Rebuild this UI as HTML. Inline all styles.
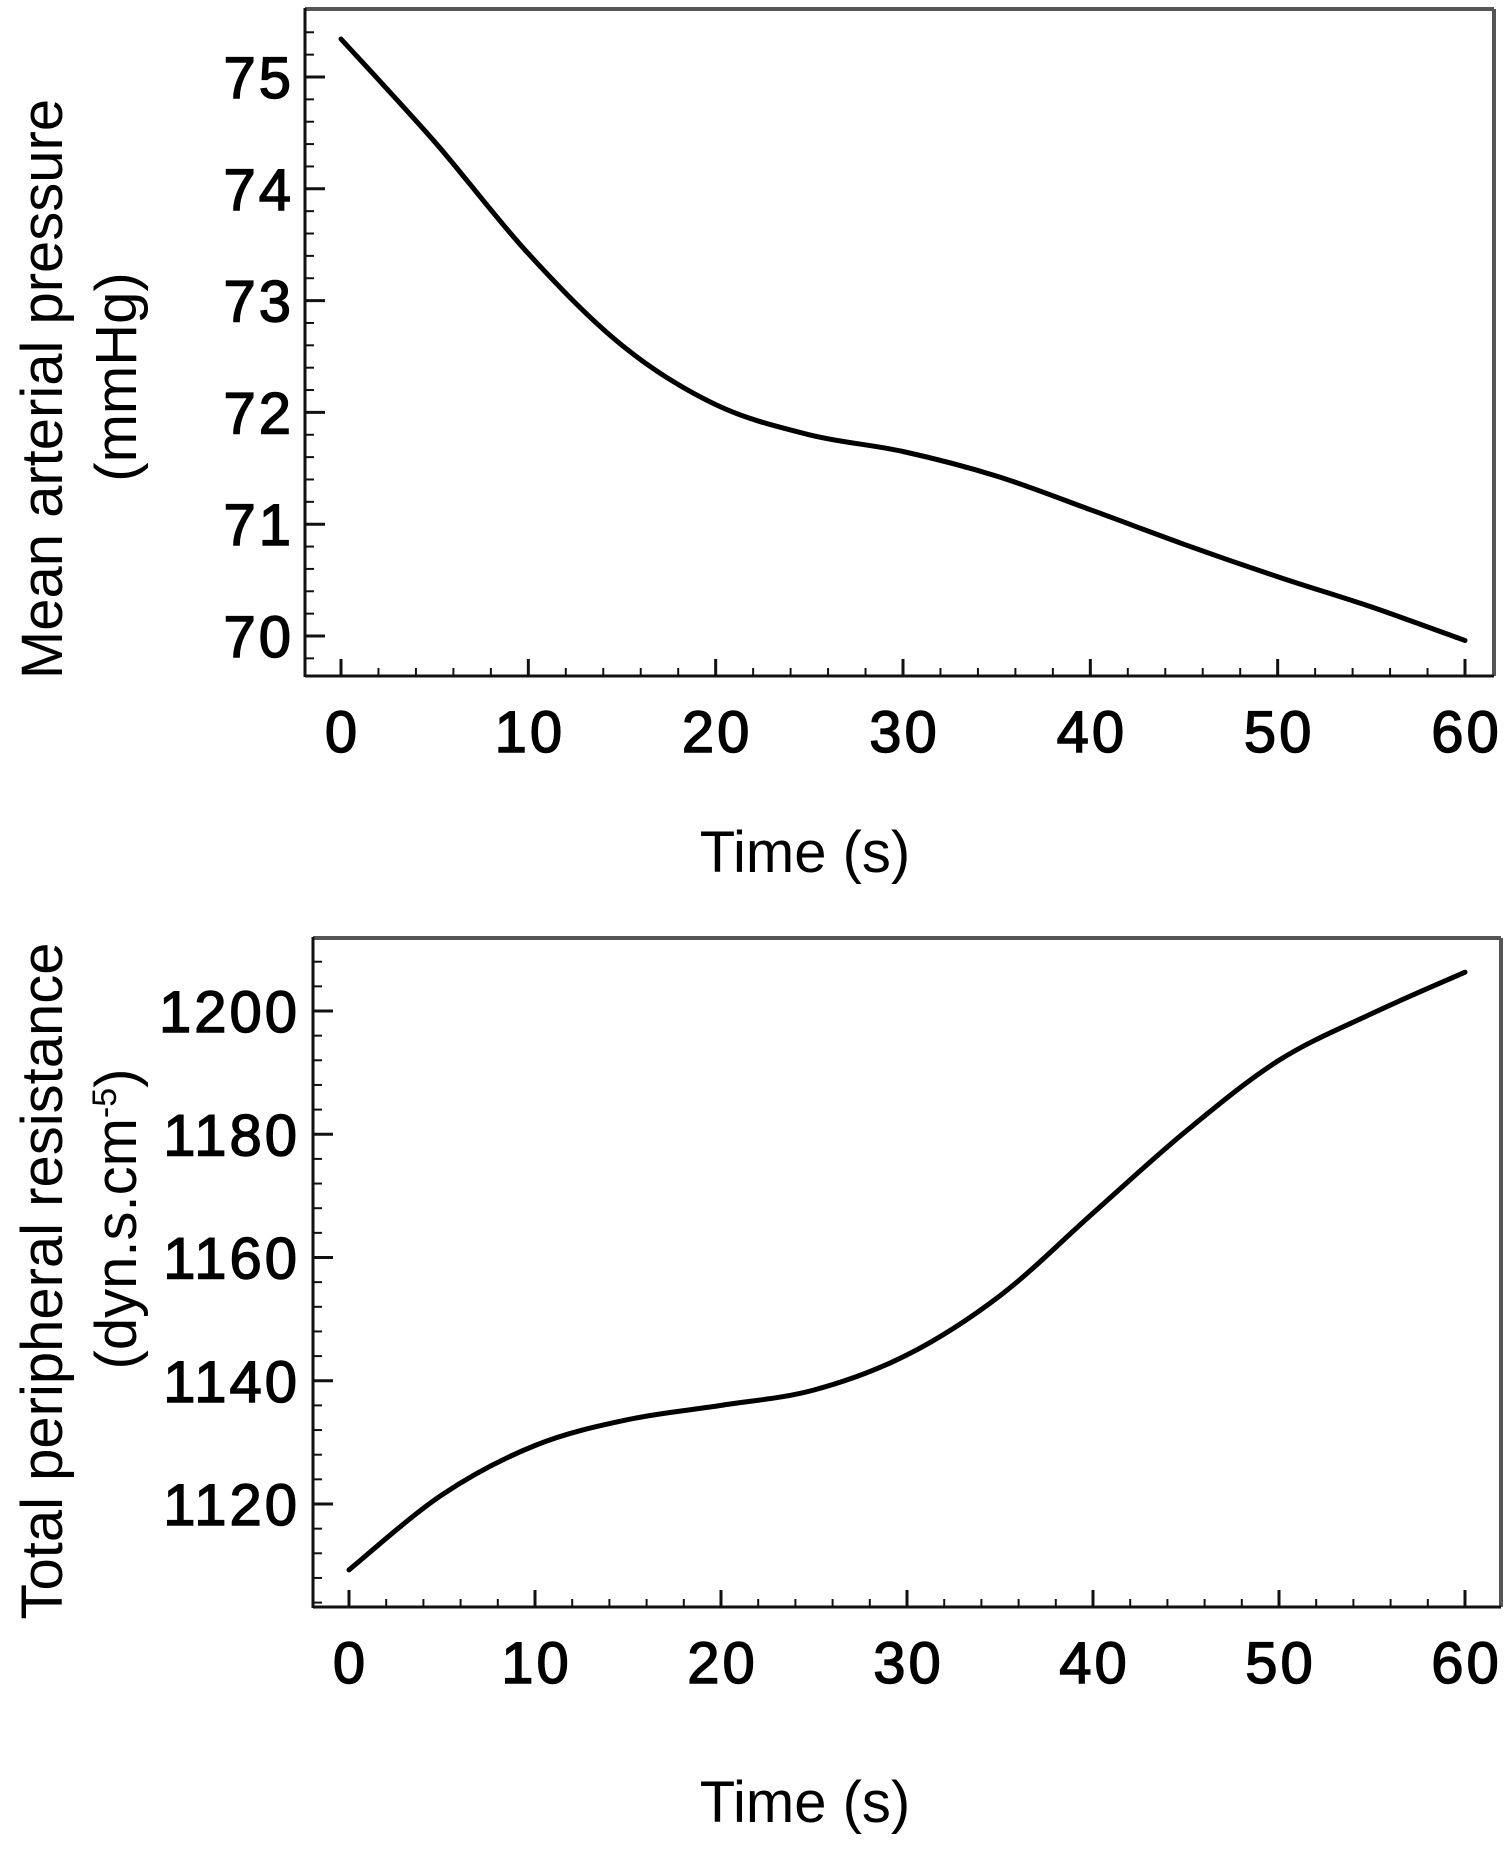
<!DOCTYPE html>
<html><head><meta charset="utf-8"><style>
html,body{margin:0;padding:0;background:#fff;}
svg{display:block;font-family:"Liberation Sans",Arial,sans-serif;}
</style></head><body>
<svg id="fig" width="1508" height="1850" viewBox="0 0 1508 1850"></svg>
<script>
const timeS = [0,5,10,15,20,25,30,35,40,45,50,55,60];
const mapValues = [75.34,74.42,73.42,72.6,72.07,71.8,71.65,71.43,71.13,70.82,70.53,70.26,69.96];
const tprValues = [1109.3,1121.5,1129.5,1133.7,1136,1138.5,1144.2,1153.8,1167.2,1180.5,1192,1199.6,1206.3];
const xTicks = [0,10,20,30,40,50,60];
const mapTicks = [70,71,72,73,74,75];
const tprTicks = [1120,1140,1160,1180,1200];

const NS='http://www.w3.org/2000/svg';
const svg=document.getElementById('fig');
function mk(tag,attrs,parent){const e=document.createElementNS(NS,tag);for(const k in attrs)e.setAttribute(k,attrs[k]);(parent||svg).appendChild(e);return e;}
const FS=58;
const TA={"font-size":FS,fill:'#000',stroke:'#000',"stroke-width":1.4,"letter-spacing":3};

function panel(cfg){
  const g=mk('g',{});
  
  
  const xs=v=>cfg.x0+(v-0)/60*(cfg.x60-cfg.x0);
  const ys=v=>cfg.yA+(v-cfg.vA)/(cfg.vB-cfg.vA)*(cfg.yB-cfg.yA);
  const tb=mk('line',{x1:cfg.L,y1:cfg.T,x2:cfg.R,y2:cfg.T,stroke:'#555',"stroke-width":4},g);
  
  const rb=mk('line',{x1:cfg.R,y1:cfg.T,x2:cfg.R,y2:cfg.B,stroke:'#555',"stroke-width":4},g);
  
  const la=mk('line',{x1:cfg.L,y1:cfg.T-1,x2:cfg.L,y2:cfg.B+1,stroke:'#111',"stroke-width":3},g);
  
  const ba=mk('line',{x1:cfg.L,y1:cfg.B,x2:cfg.R,y2:cfg.B,stroke:'#111',"stroke-width":3},g);
  
  for(let t=0;t<=60;t+=2){
    const major=t%10===0;
    const l=mk('line',{x1:xs(t),y1:cfg.B,x2:xs(t),y2:cfg.B-(major?17:8),stroke:'#111',"stroke-width":major?3:2},g);
    
    
  }
  xTicks.forEach(t=>{
    const tx=mk('text',Object.assign({x:xs(t)+1.5,y:cfg.xLabY,"text-anchor":"middle"},TA),g);
    tx.textContent=String(t);
    
    
  });
  for(let v=cfg.vMinTick;v<=cfg.vMaxTick+1e-9;v+=cfg.minor){
    const vv=Math.round(v*1000)/1000;
    const y=ys(vv);
    if(y<cfg.T+3||y>cfg.B-3)continue;
    const major=cfg.ticks.some(k=>Math.abs(k-vv)<1e-6);
    const l=mk('line',{x1:cfg.L,y1:y,x2:cfg.L+(major?20:9),y2:y,stroke:'#111',"stroke-width":major?3:2},g);
    
    
  }
  cfg.ticks.forEach(v=>{
    const tx=mk('text',Object.assign({x:cfg.yLabX+3,y:ys(v)+21,"text-anchor":"end"},TA),g);
    tx.textContent=String(v);
    
    
  });
  const P=timeS.map((t,i)=>[xs(t),ys(cfg.values[i])]);
  let d='M'+P[0][0].toFixed(1)+','+P[0][1].toFixed(1);
  for(let i=0;i<P.length-1;i++){
    const p0=P[Math.max(0,i-1)],p1=P[i],p2=P[i+1],p3=P[Math.min(P.length-1,i+2)];
    const c1=[p1[0]+(p2[0]-p0[0])/6,p1[1]+(p2[1]-p0[1])/6];
    const c2=[p2[0]-(p3[0]-p1[0])/6,p2[1]-(p3[1]-p1[1])/6];
    d+=' C'+c1.map(n=>n.toFixed(1)).join(',')+' '+c2.map(n=>n.toFixed(1)).join(',')+' '+p2.map(n=>n.toFixed(1)).join(',');
  }
  const path=mk('path',{d:d,fill:'none',stroke:'#000',"stroke-width":5,"stroke-linecap":"round"},g);
  
  
  const xt=mk('text',{x:805,y:cfg.xTitleY,"text-anchor":"middle","font-size":58,fill:'#000'},g);
  xt.textContent='Time (s)';
  
  
  const y1=mk('text',{x:0,y:0,"text-anchor":"middle","font-size":cfg.yFs,fill:'#000',transform:`translate(62,${cfg.yT1C}) rotate(-90)`},g);
  y1.textContent=cfg.yTitle1;
  
  
  const y2=mk('text',{x:0,y:0,"text-anchor":"middle","font-size":cfg.yFs,fill:'#000',transform:`translate(136,${cfg.yT2C}) rotate(-90)`},g);
  if(cfg.sup){
    y2.appendChild(document.createTextNode(cfg.yTitle2));
    const ts=document.createElementNS(NS,'tspan');ts.setAttribute('font-size','34');ts.setAttribute('dy','-20');ts.textContent=cfg.sup;y2.appendChild(ts);
    const ts2=document.createElementNS(NS,'tspan');ts2.setAttribute('dy','20');ts2.textContent=')';y2.appendChild(ts2);
  } else y2.textContent=cfg.yTitle2;
  
  
}

panel({name:'mean-arterial-pressure-chart',lineName:'map-line',values:mapValues,ticks:mapTicks,
  L:305,R:1494,T:9,B:676,x0:341,x60:1465,yA:77,vA:75,yB:636,vB:70,
  minor:0.2,vMinTick:69.8,vMaxTick:75.6,yLabX:291,xLabY:752,xTitleY:872,yFs:58,
  yTitle1:'Mean arterial pressure',yTitle2:'(mmHg)',yT1C:389,yT2C:377});
panel({name:'total-peripheral-resistance-chart',lineName:'tpr-line',values:tprValues,ticks:tprTicks,
  L:313,R:1501,T:938,B:1607,x0:349,x60:1465,yA:1011,vA:1200,yB:1504,vB:1120,
  minor:4,vMinTick:1104,vMaxTick:1212,yLabX:297,xLabY:1683,xTitleY:1822,yFs:58,
  yTitle1:'Total peripheral resistance',yTitle2:'(dyn.s.cm',sup:'-5',yT1C:1281,yT2C:1219});
</script>
</body></html>
